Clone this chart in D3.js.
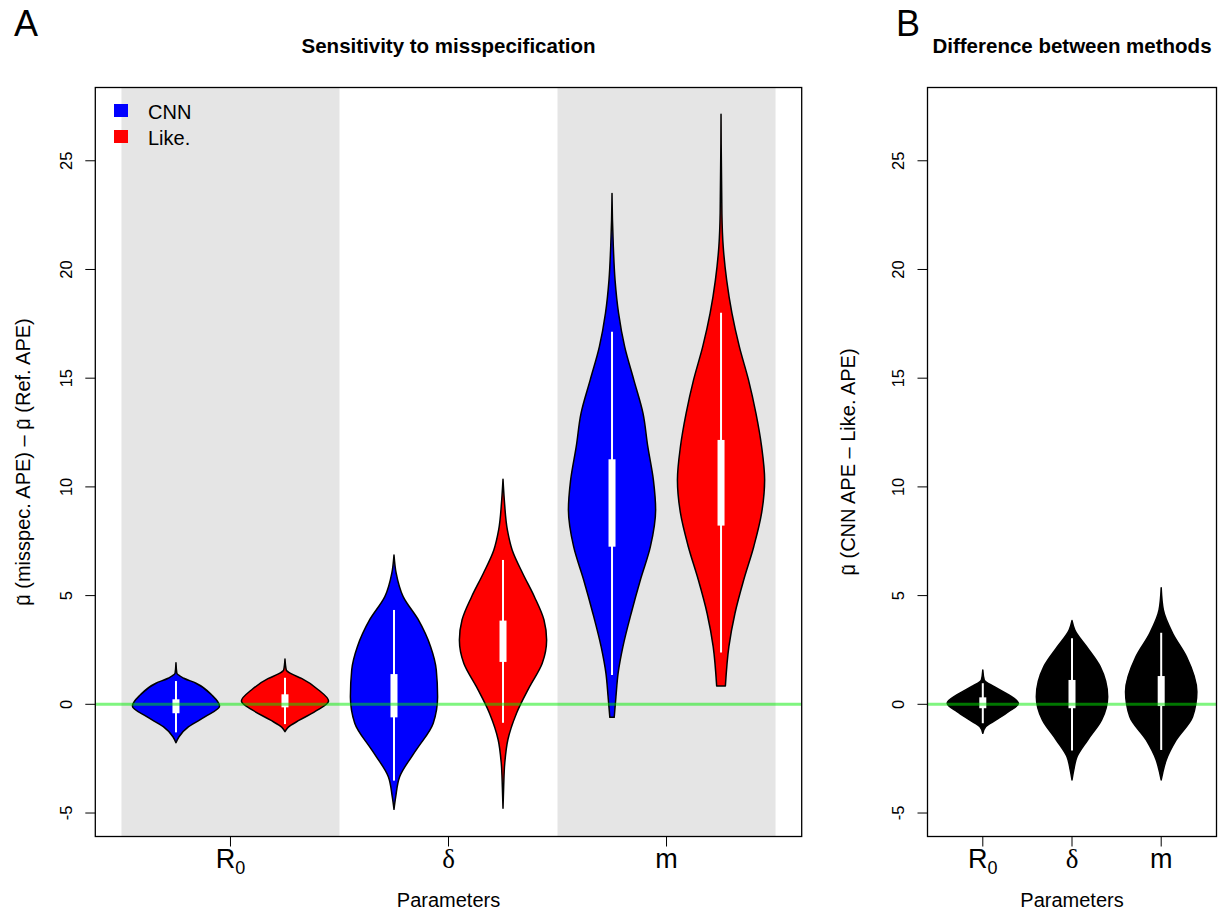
<!DOCTYPE html>
<html>
<head>
<meta charset="utf-8">
<script src="https://cdn.jsdelivr.net/npm/d3@7"></script>
<style>
  body { margin: 0; background: #fff; }
  text { font-family: "Liberation Sans", Arial, sans-serif; fill: #000; }
</style>
</head>
<body>
<svg id="chart" width="1218" height="919"></svg>
<script>
'use strict';

// ---- data ----
var params = ['R0', 'δ', 'm'];
var methods = ['CNN', 'Like.'];
var methodColors = ['#0000FF', '#FF0000'];
var yTicks = [-5, 0, 5, 10, 15, 20, 25];

// violin outlines: [value, relative half width]
var cnnDensity = [
  [[1.91,0],[1.43,0.02],[1.2,0.18],[0.97,0.46],[0.43,0.82],[-0.08,1],[-0.57,0.67],[-1.03,0.29],[-1.49,0.07],[-1.77,0]],
  [[6.87,0],[6.03,0.05],[4.95,0.21],[3.88,0.56],[2.65,0.84],[1.58,0.97],[0.35,1],[-0.87,0.9],[-2.1,0.51],[-3.33,0.13],[-4.25,0.04],[-4.83,0]],
  [[23.5,0],[22.3,0.01],[21.05,0.03],[19.5,0.07],[17.99,0.15],[16.45,0.29],[14.92,0.5],[13.39,0.71],[11.86,0.82],[10.3,0.95],[8.94,1],[7.25,0.88],[5.72,0.65],[4.19,0.44],[2.65,0.25],[1.43,0.14],[0.35,0.09],[-0.6,0.05]]
];
var likeDensity = [
  [[2.08,0],[1.58,0.03],[1.4,0.15],[1.19,0.38],[0.66,0.77],[0.15,1],[-0.26,0.75],[-0.72,0.34],[-1.06,0.07],[-1.26,0]],
  [[10.35,0],[9.4,0.03],[8.02,0.1],[7.1,0.21],[6.03,0.45],[4.95,0.72],[3.88,0.94],[2.96,1],[1.89,0.9],[0.81,0.61],[-0.41,0.31],[-1.64,0.11],[-2.71,0.04],[-3.8,0.015],[-4.78,0]],
  [[27.14,0],[22.58,0.02],[21.05,0.05],[19.5,0.13],[17.99,0.25],[16.45,0.42],[14.92,0.63],[13.39,0.8],[11.86,0.93],[10.32,1],[8.79,0.93],[7.25,0.75],[5.72,0.52],[4.19,0.32],[2.65,0.18],[0.84,0.1]]
];
var diffDensity = [
  [[1.58,0],[1.12,0.04],[0.81,0.32],[0.43,0.73],[0.05,1],[-0.34,0.72],[-0.72,0.37],[-1.03,0.08],[-1.33,0]],
  [[3.85,0],[3.42,0.08],[2.65,0.41],[1.73,0.79],[0.35,1],[-0.72,0.83],[-1.64,0.44],[-2.41,0.14],[-3.02,0.05],[-3.48,0]],
  [[5.36,0],[4.34,0.06],[3.27,0.32],[2.19,0.71],[0.58,1],[-0.57,0.88],[-1.64,0.42],[-2.56,0.14],[-3.17,0.04],[-3.48,0]]
];

// whisker low, q1, q3, whisker high
var cnnLo = [-1.29, -3.51, 1.35], cnnQ1 = [-0.41, -0.6, 7.25], cnnQ3 = [0.23, 1.39, 11.27], cnnHi = [1.07, 4.34, 17.14];
var likeLo = [-0.91, -0.85, 2.38], likeQ1 = [-0.14, 1.95, 8.22], likeQ3 = [0.46, 3.85, 12.16], likeHi = [1.22, 6.64, 18.01];
var diffLo = [-0.87, -2.13, -2.1], diffQ1 = [-0.18, -0.18, -0.08], diffQ3 = [0.32, 1.12, 1.3], diffHi = [0.97, 3.04, 3.29];

(function() {
// ---- layout ----
var svg = d3.select('#chart');
var plotTop = 87.5, plotBottom = 836.5;
var y = d3.scaleLinear().domain([-6.08, 28.37]).range([plotBottom, plotTop]);
var xA = d3.scaleLinear().domain([0.26, 6.74]).range([95.3, 801.7]);
var xB = d3.scaleLinear().domain([0.38, 3.62]).range([927.5, 1216.5]);

function violin(g, x, pos, profile, lo, q1, q3, hi, fill) {
  var area = d3.area()
    .curve(d3.curveMonotoneY)
    .y(function(d) { return y(d[0]); })
    .x0(function(d) { return x(pos - d[1] * 0.4); })
    .x1(function(d) { return x(pos + d[1] * 0.4); });
  g.append('path').attr('d', area(profile))
    .attr('fill', fill).attr('stroke', '#000').attr('stroke-width', 1.5)
    .attr('stroke-linejoin', 'round');
  g.append('line').attr('x1', x(pos)).attr('x2', x(pos))
    .attr('y1', y(lo)).attr('y2', y(hi))
    .attr('stroke', '#fff').attr('stroke-width', 2);
  g.append('rect').attr('x', x(pos) - 3.5).attr('width', 7)
    .attr('y', y(q3)).attr('height', y(q1) - y(q3)).attr('fill', '#fff');
}

function yAxis(g, x0) {
  g.selectAll('.yt').data(yTicks).enter().append('line')
    .attr('x1', x0 - 10).attr('x2', x0)
    .attr('y1', function(d) { return y(d); }).attr('y2', function(d) { return y(d); })
    .attr('stroke', '#000').attr('stroke-width', 1);
  g.selectAll('.yl').data(yTicks).enter().append('text')
    .attr('transform', function(d) { return 'translate(' + (x0 - 23.5) + ',' + y(d) + ') rotate(-90)'; })
    .attr('text-anchor', 'middle').attr('font-size', 16.5)
    .text(function(d) { return d; });
}

function xLabels(g, x, positions) {
  positions.forEach(function(p, i) {
    g.append('line').attr('x1', x(p)).attr('x2', x(p))
      .attr('y1', plotBottom).attr('y2', plotBottom + 10)
      .attr('stroke', '#000').attr('stroke-width', 1);
    var t = g.append('text').attr('x', x(p)).attr('y', 868)
      .attr('text-anchor', 'middle').attr('font-size', 27);
    if (params[i] === 'R0') {
      t.append('tspan').text('R');
      t.append('tspan').attr('font-size', 18).attr('dy', 6).text('0');
    } else if (params[i] === 'δ') {
      t.style('font-family', '"Liberation Serif", serif').text('δ');
    } else {
      t.text(params[i]);
    }
  });
}

// mu with a tilde on top, then the rest of the text
function muTilde(t, rest) {
  t.append('tspan').text('\u03BC');
  t.append('tspan').attr('dx', '-0.455em').attr('dy', '0.05em').text('\u02DC');
  t.append('tspan').attr('dx', '0.121em').attr('dy', '-0.05em').text(rest);
}

function yTitle(g, x, parts) {
  var t = g.append('text')
    .attr('transform', 'translate(' + x + ',' + ((plotTop + plotBottom) / 2) + ') rotate(-90)')
    .attr('text-anchor', 'middle').attr('font-size', 20);
  parts.forEach(function(s) { muTilde(t, s); });
}

// ---- panel A ----
var gA = svg.append('g');
[[0.5, 2.5], [4.5, 6.5]].forEach(function(b) {
  gA.append('rect').attr('x', xA(b[0])).attr('width', xA(b[1]) - xA(b[0]))
    .attr('y', plotTop).attr('height', plotBottom - plotTop).attr('fill', '#E5E5E5');
});
params.forEach(function(p, i) {
  violin(gA, xA, 2 * i + 1, cnnDensity[i], cnnLo[i], cnnQ1[i], cnnQ3[i], cnnHi[i], methodColors[0]);
  violin(gA, xA, 2 * i + 2, likeDensity[i], likeLo[i], likeQ1[i], likeQ3[i], likeHi[i], methodColors[1]);
});
gA.append('line').attr('x1', xA(0.26)).attr('x2', xA(6.74))
  .attr('y1', y(0)).attr('y2', y(0))
  .attr('stroke', 'rgba(0,235,0,0.5)').attr('stroke-width', 3);
gA.append('rect').attr('x', xA(0.26)).attr('y', plotTop)
  .attr('width', xA(6.74) - xA(0.26)).attr('height', plotBottom - plotTop)
  .attr('fill', 'none').attr('stroke', '#000').attr('stroke-width', 1.3);
yAxis(gA, xA(0.26));
xLabels(gA, xA, [1.5, 3.5, 5.5]);

// legend
methods.forEach(function(m, i) {
  gA.append('rect').attr('x', 114).attr('y', 104 + i * 26).attr('width', 14).attr('height', 13)
    .attr('fill', methodColors[i]);
  gA.append('text').attr('x', 148).attr('y', 119 + i * 26).attr('font-size', 20).text(m);
});

gA.append('text').attr('x', 448.5).attr('y', 53).attr('text-anchor', 'middle')
  .attr('font-size', 20.5).attr('font-weight', 'bold').text('Sensitivity to misspecification');
gA.append('text').attr('x', 448.5).attr('y', 907).attr('text-anchor', 'middle')
  .attr('font-size', 20).text('Parameters');
yTitle(gA, 30, [' (misspec. APE) \u2013 ', ' (Ref. APE)']);
svg.append('text').attr('x', 14).attr('y', 36).attr('font-size', 36).text('A');

// ---- panel B ----
var gB = svg.append('g');
params.forEach(function(p, i) {
  violin(gB, xB, i + 1, diffDensity[i], diffLo[i], diffQ1[i], diffQ3[i], diffHi[i], '#000');
});
gB.append('line').attr('x1', xB(0.38)).attr('x2', xB(3.62))
  .attr('y1', y(0)).attr('y2', y(0))
  .attr('stroke', 'rgba(0,235,0,0.5)').attr('stroke-width', 3);
gB.append('rect').attr('x', xB(0.38)).attr('y', plotTop)
  .attr('width', xB(3.62) - xB(0.38)).attr('height', plotBottom - plotTop)
  .attr('fill', 'none').attr('stroke', '#000').attr('stroke-width', 1.3);
yAxis(gB, xB(0.38));
xLabels(gB, xB, [1, 2, 3]);

gB.append('text').attr('x', 1072).attr('y', 53).attr('text-anchor', 'middle')
  .attr('font-size', 20.5).attr('font-weight', 'bold').text('Difference between methods');
gB.append('text').attr('x', 1072).attr('y', 907).attr('text-anchor', 'middle')
  .attr('font-size', 20).text('Parameters');
yTitle(gB, 855, [' (CNN APE \u2013 Like. APE)']);
svg.append('text').attr('x', 896).attr('y', 36).attr('font-size', 36).text('B');
})();
</script>
</body>
</html>
